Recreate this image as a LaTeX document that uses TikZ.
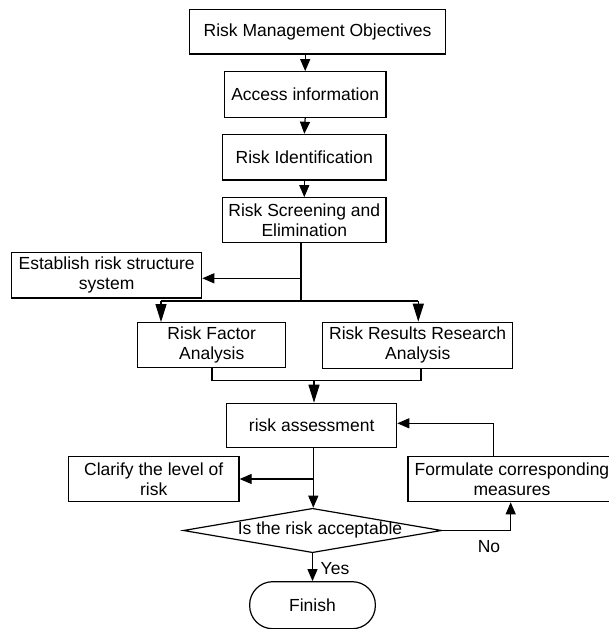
\documentclass[tikz,border=0pt]{standalone}
\usepackage{fontspec}
\setmainfont{Liberation Sans}
\usetikzlibrary{arrows.meta,shapes.geometric}
\tikzset{
  txt/.style={font=\fontsize{17.5}{20}\selectfont},
  box/.style={txt, draw, line width=1.2pt, inner sep=0pt, align=center},
  decision/.style={diamond, draw, line width=1.2pt, inner sep=0pt, aspect=1},
  endbox/.style={txt, draw, line width=1.2pt, inner sep=0pt, rounded corners=23pt},
  lbl/.style={txt, inner sep=0pt},
  arr/.style={-{Triangle[length=12pt,width=10pt]}},
  arrl/.style={-{Triangle[length=18pt,width=11pt]}}
}
\begin{document}
\begin{tikzpicture}[x=1pt, y=-1pt, line width=1.2pt]
\useasboundingbox (0,0) rectangle (609,629);
\clip (0,0) rectangle (609,629);
% boxes
\node[box, minimum width=256.4pt, minimum height=44.7pt] (rmo) at (317.5,31.7) {Risk Management Objectives};
\node[box, minimum width=161.7pt, minimum height=45.6pt] (acc) at (305.2,94.5) {Access information};
\node[box, minimum width=163.3pt, minimum height=45.7pt] (rid) at (304.3,157.2) {Risk Identification};
\node[box, minimum width=163.3pt, minimum height=45pt] (scr) at (304.3,220.2) {Risk Screening and\\Elimination};
\node[box, minimum width=190pt, minimum height=45.3pt] (est) at (106.7,275.3) {Establish risk structure\\system};
\node[box, minimum width=148pt, minimum height=45pt] (rfa) at (211.7,345.2) {Risk Factor\\Analysis};
\node[box, minimum width=190pt, minimum height=46pt] (rrr) at (417.7,345.3) {Risk Results Research\\Analysis};
\node[box, minimum width=170pt, minimum height=44.4pt] (ras) at (311.7,425.5) {risk assessment};
\node[box, minimum width=170.7pt, minimum height=45pt] (cla) at (153.7,479.2) {Clarify the level of\\risk};
\node[box, minimum width=208pt, minimum height=45pt] (frm) at (512,479.2) {Formulate corresponding\\measures};
\node[decision, minimum width=258.4pt, minimum height=44.4pt] (dia) at (312.5,530.5) {};
\node[lbl] (diatext) at (320,529.5) {Is the risk acceptable};
\node[endbox, minimum width=125.7pt, minimum height=47pt] (fin) at (312.5,605.2) {Finish};
\node[lbl] (yes) at (335,569) {Yes};
\node[lbl] (no) at (489,547) {No};
% junction coordinates
\coordinate (j1) at (301,278.3);
\coordinate (j2) at (301,301);
\coordinate (h1) at (161,301);
\coordinate (h2) at (418.3,301);
\coordinate (m1) at (212,380.7);
\coordinate (m2) at (421,380.7);
\coordinate (m3) at (314,380.7);
\coordinate (k1) at (313.3,479);
\coordinate (n1) at (510.7,530.5);
\coordinate (f1) at (493.3,423.3);
% connectors
\draw[arr] (rmo.south -| acc.north) -- (acc.north);
\draw[arr] (acc.south) -- (rid.north);
\draw[arr] (rid.south) -- (scr.north);
\draw (scr.south -| j1) -- (j2);
\draw[arr] (j1) -- (j1 -| est.east);
\draw (h1) -- (h2);
\draw[arrl] (h1) -- (h1 |- rfa.north);
\draw[arrl] (h2) -- (h2 |- rrr.north);
\draw (m1 |- rfa.south) -- (m1) -- (m2) -- (m2 |- rrr.south);
\draw[arrl] (m3) -- (m3 |- ras.north);
\draw[arr] (k1 |- ras.south) -- (k1 |- dia.north);
\draw[arr] (k1) -- (k1 -| cla.east);
\draw[arr] (dia.east) -- (n1) -- (n1 |- frm.south);
\draw[arr] (f1 |- frm.north) -- (f1) -- (f1 -| ras.east);
\draw[arr] (dia.south) -- (fin.north);
\end{tikzpicture}
\end{document}
